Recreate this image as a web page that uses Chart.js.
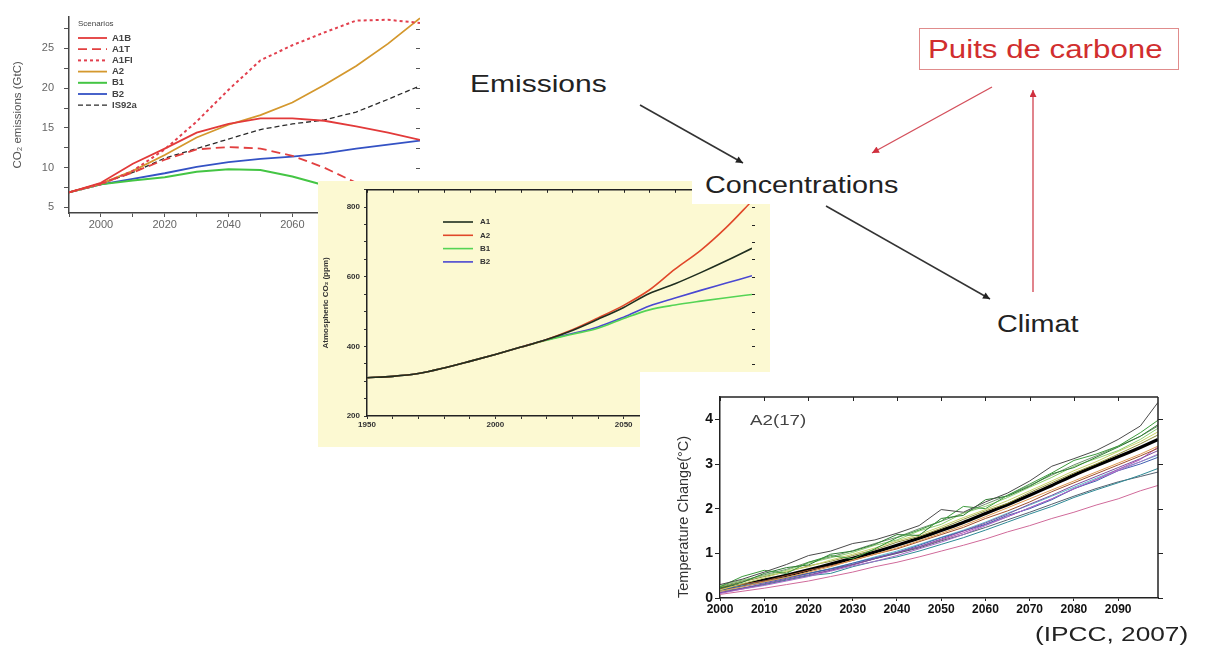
<!DOCTYPE html>
<html>
<head>
<meta charset="utf-8">
<script src="https://cdn.jsdelivr.net/npm/chart.js@4.4.1/dist/chart.umd.min.js"></script>
<style>
  html, body { margin: 0; padding: 0; background: #fff; }
  body { width: 1215px; height: 652px; position: relative; overflow: hidden;
         font-family: 'Liberation Sans', Arial, sans-serif; }
  canvas { position: absolute; }
  #cEmis { left: 0; top: 0; z-index: 1; }
  #cConc { left: 318px; top: 181px; z-index: 2; background: #fcf9d2; }
  #cTemp { left: 640px; top: 372px; z-index: 3; background: #fff; }
  .lbl { position: absolute; white-space: nowrap; line-height: 1; color: #222;
         transform: scaleX(1.25); transform-origin: 0 0; z-index: 6; }
  #concBox { position: absolute; left: 692px; top: 166px; width: 232px; height: 38px;
             background: #fff; z-index: 5; }
  #sinkBox { position: absolute; left: 919px; top: 28px; width: 258px; height: 40px;
             border: 1.5px solid #e08c8c; z-index: 5; }
  #arrows { position: absolute; left: 0; top: 0; z-index: 7; }
</style>
</head>
<body>
<canvas id="cEmis" width="440" height="232"></canvas>
<canvas id="cConc" width="452" height="266"></canvas>
<canvas id="cTemp" width="575" height="250"></canvas>

<div id="concBox"></div>
<div id="sinkBox"></div>
<div class="lbl" style="left:470px; top:71.7px; font-size:24px;">Emissions</div>
<div class="lbl" style="left:705px; top:173.5px; font-size:23px;">Concentrations</div>
<div class="lbl" style="left:997px; top:312.5px; font-size:23px;">Climat</div>
<div class="lbl" style="left:928px; top:36.8px; font-size:25px; color:#d12e2e;">Puits de carbone</div>
<div class="lbl" style="left:1035px; top:623px; font-size:21px;">(IPCC, 2007)</div>
<div class="lbl" style="left:750px; top:411.5px; font-size:15px; color:#444;">A2(17)</div>

<svg id="arrows" width="1215" height="652">
  <defs>
    <marker id="headK" viewBox="0 0 10 10" refX="10" refY="5" markerUnits="userSpaceOnUse"
            markerWidth="9" markerHeight="7" orient="auto">
      <path d="M0,0 L10,5 L0,10 z" fill="#222"/>
    </marker>
    <marker id="headR" viewBox="0 0 10 10" refX="10" refY="5" markerUnits="userSpaceOnUse"
            markerWidth="9" markerHeight="7" orient="auto">
      <path d="M0,0 L10,5 L0,10 z" fill="#d0303e"/>
    </marker>
  </defs>
  <line x1="640" y1="105" x2="743" y2="163" stroke="#333" stroke-width="1.6" marker-end="url(#headK)"/>
  <line x1="826" y1="206" x2="990" y2="299" stroke="#333" stroke-width="1.6" marker-end="url(#headK)"/>
  <line x1="992" y1="87" x2="872" y2="153" stroke="#d4505c" stroke-width="1.4" marker-end="url(#headR)"/>
  <line x1="1033" y1="292" x2="1033" y2="90" stroke="#d4505c" stroke-width="1.4" marker-end="url(#headR)"/>
</svg>

<script>
// ---------- CO2 emission scenarios (GtC per year) ----------
const emisYears = [1990, 2000, 2010, 2020, 2030, 2040, 2050, 2060, 2070, 2080, 2090, 2100];
const emisA1B   = [6.9, 8.1, 10.5, 12.4, 14.4, 15.5, 16.2, 16.2, 15.9, 15.2, 14.4, 13.5];
const emisA1T   = [6.9, 8.0, 9.4, 11.0, 12.3, 12.6, 12.4, 11.5, 10.0, 8.1, 6.0, 4.3];
const emisA1FI  = [6.9, 7.9, 9.6, 12.3, 15.8, 19.8, 23.5, 25.4, 27.0, 28.5, 28.6, 28.2];
const emisA2    = [6.9, 8.0, 9.6, 11.6, 13.8, 15.4, 16.6, 18.2, 20.4, 22.8, 25.6, 28.8];
const emisB1    = [6.9, 7.9, 8.4, 8.8, 9.5, 9.8, 9.7, 8.9, 7.8, 6.6, 5.4, 4.2];
const emisB2    = [6.9, 7.9, 8.6, 9.3, 10.1, 10.7, 11.1, 11.4, 11.8, 12.4, 12.9, 13.4];
const emisIS92a = [6.9, 8.0, 9.4, 11.2, 12.4, 13.6, 14.8, 15.5, 16.0, 17.0, 18.6, 20.3];
const emisXTicks = [1990, 2000, 2010, 2020, 2030, 2040, 2050, 2060, 2070, 2080, 2090, 2100];
const emisYTicks = [5, 7.5, 10, 12.5, 15, 17.5, 20, 22.5, 25, 27.5];

// ---------- Atmospheric CO2 concentration (ppm) ----------
const concYears = [1950, 1960, 1970, 1980, 1990, 2000, 2010, 2020, 2030, 2040, 2050, 2060, 2070, 2080, 2090, 2100];
const concA1 = [310, 314, 322, 338, 357, 377, 398, 420, 446, 478, 512, 552, 580, 612, 646, 682];
const concA2 = [310, 314, 322, 338, 357, 377, 398, 420, 448, 482, 518, 562, 622, 676, 742, 818];
const concB1 = [310, 314, 322, 338, 357, 377, 398, 418, 435, 452, 480, 505, 519, 530, 540, 549];
const concB2 = [310, 314, 322, 338, 357, 377, 398, 419, 437, 456, 484, 516, 539, 561, 582, 603];
const concXTicks = [1950, 1960, 1970, 1980, 1990, 2000, 2010, 2020, 2030, 2040, 2050, 2060, 2070, 2080, 2090, 2100];
const concYTicks = [200, 250, 300, 350, 400, 450, 500, 550, 600, 650, 700, 750, 800, 850];

// ---------- Temperature change, A2 scenario, 17 models (°C) ----------
const tempYears = [2000, 2005, 2010, 2015, 2020, 2025, 2030, 2035, 2040, 2045, 2050, 2055, 2060, 2065, 2070, 2075, 2080, 2085, 2090, 2095, 2099];
const tempMean = [0.20, 0.29, 0.40, 0.51, 0.63, 0.76, 0.89, 1.03, 1.18, 1.34, 1.51, 1.69, 1.89, 2.09, 2.30, 2.52, 2.75, 2.96, 3.16, 3.37, 3.55];
const tempM01 = [0.30, 0.42, 0.58, 0.75, 0.95, 1.05, 1.22, 1.30, 1.45, 1.62, 1.98, 1.92, 2.15, 2.35, 2.62, 2.95, 3.12, 3.30, 3.55, 3.85, 4.38];
const tempM02 = [0.25, 0.48, 0.62, 0.55, 0.80, 0.95, 0.88, 1.10, 1.35, 1.52, 1.72, 2.05, 2.00, 2.30, 2.55, 2.80, 3.08, 3.22, 3.40, 3.70, 3.98];
const tempM03 = [0.22, 0.35, 0.55, 0.68, 0.74, 0.98, 1.05, 1.20, 1.42, 1.40, 1.78, 1.85, 2.20, 2.28, 2.50, 2.78, 2.92, 3.15, 3.38, 3.62, 3.88];
const tempM04 = [0.28, 0.40, 0.50, 0.62, 0.78, 0.90, 1.02, 1.18, 1.30, 1.50, 1.65, 1.90, 2.05, 2.25, 2.48, 2.70, 2.95, 3.12, 3.30, 3.55, 3.80];
const tempM05 = [0.18, 0.32, 0.45, 0.60, 0.70, 0.85, 0.98, 1.12, 1.28, 1.42, 1.60, 1.80, 1.98, 2.18, 2.40, 2.62, 2.85, 3.05, 3.28, 3.50, 3.72];
const tempM06 = [0.24, 0.36, 0.48, 0.58, 0.72, 0.82, 0.95, 1.08, 1.25, 1.38, 1.56, 1.76, 1.95, 2.12, 2.36, 2.58, 2.80, 3.00, 3.22, 3.45, 3.65];
const tempM07 = [0.15, 0.25, 0.36, 0.46, 0.58, 0.70, 0.85, 0.98, 1.12, 1.28, 1.45, 1.62, 1.82, 2.02, 2.22, 2.42, 2.62, 2.82, 3.02, 3.22, 3.40];
const tempM08 = [0.20, 0.30, 0.38, 0.50, 0.62, 0.72, 0.84, 0.98, 1.10, 1.26, 1.42, 1.58, 1.78, 1.95, 2.15, 2.38, 2.58, 2.78, 2.98, 3.18, 3.35];
const tempM09 = [0.12, 0.22, 0.32, 0.42, 0.52, 0.62, 0.75, 0.88, 1.02, 1.15, 1.32, 1.50, 1.68, 1.88, 2.10, 2.30, 2.52, 2.72, 2.92, 3.12, 3.30];
const tempM10 = [0.10, 0.20, 0.28, 0.38, 0.48, 0.60, 0.72, 0.82, 0.95, 1.10, 1.25, 1.42, 1.62, 1.82, 2.02, 2.22, 2.45, 2.65, 2.85, 3.05, 3.22];
const tempM11 = [0.18, 0.26, 0.34, 0.44, 0.55, 0.65, 0.78, 0.90, 1.02, 1.18, 1.35, 1.50, 1.65, 1.85, 2.00, 2.20, 2.45, 2.62, 2.85, 3.00, 3.15];
const tempM12 = [0.15, 0.22, 0.30, 0.40, 0.50, 0.55, 0.70, 0.82, 0.92, 1.05, 1.20, 1.35, 1.52, 1.70, 1.88, 2.05, 2.25, 2.42, 2.58, 2.75, 2.90];
const tempM13 = [0.22, 0.30, 0.38, 0.46, 0.55, 0.65, 0.75, 0.88, 1.00, 1.12, 1.28, 1.42, 1.58, 1.75, 1.92, 2.10, 2.28, 2.45, 2.60, 2.72, 2.82];
const tempM14 = [0.08, 0.15, 0.22, 0.30, 0.38, 0.48, 0.58, 0.70, 0.80, 0.92, 1.05, 1.18, 1.32, 1.48, 1.62, 1.78, 1.92, 2.08, 2.22, 2.40, 2.52];
const tempM15 = [0.12, 0.20, 0.30, 0.40, 0.50, 0.62, 0.74, 0.88, 1.00, 1.14, 1.30, 1.46, 1.64, 1.82, 2.02, 2.22, 2.44, 2.65, 2.88, 3.10, 3.38];
const tempM16 = [0.20, 0.28, 0.36, 0.45, 0.55, 0.66, 0.78, 0.92, 1.05, 1.20, 1.36, 1.52, 1.70, 1.90, 2.08, 2.28, 2.48, 2.68, 2.88, 3.05, 3.20];
const tempM17 = [0.26, 0.38, 0.52, 0.64, 0.80, 0.92, 1.06, 1.22, 1.36, 1.55, 1.72, 1.90, 2.10, 2.30, 2.52, 2.75, 2.98, 3.18, 3.40, 3.62, 3.85];
const tempXTicks = [2000, 2010, 2020, 2030, 2040, 2050, 2060, 2070, 2080, 2090];
const tempYTicks = [0, 1, 2, 3, 4];

// ---------- helpers ----------
const FONT = "'Liberation Sans', Arial, sans-serif";
Chart.defaults.font.family = FONT;
Chart.defaults.animation = false;
Chart.defaults.plugins.legend.display = false;
Chart.defaults.plugins.tooltip.enabled = false;
Chart.defaults.elements.point.radius = 0;

const pts = (xs, ys) => xs.map((x, i) => ({ x: x, y: ys[i] }));
const fixTicks = vals => axis => { axis.ticks = vals.map(v => ({ value: v })); };

// Plot-frame edges and tick marks on the top/right sides
const framePlugin = {
  id: 'frame',
  afterDatasetsDraw(chart, args, o) {
    if (!o || (!o.top && !o.right)) return;
    const ctx = chart.ctx, a = chart.chartArea;
    ctx.save();
    ctx.strokeStyle = o.color || '#222';
    ['top', 'right'].forEach(side => {
      const s = o[side];
      if (!s) return;
      if (s.line) {
        ctx.lineWidth = o.width || 1.5;
        ctx.beginPath();
        if (side === 'top') { ctx.moveTo(a.left, a.top); ctx.lineTo(a.right, a.top); }
        else { ctx.moveTo(a.right, a.top); ctx.lineTo(a.right, a.bottom); }
        ctx.stroke();
      }
      const sc = chart.scales[s.scale];
      ctx.lineWidth = s.tickWidth || 1;
      sc.ticks.forEach(t => {
        const p = Math.round(sc.getPixelForValue(t.value)) + 0.5;
        ctx.beginPath();
        if (side === 'top') { ctx.moveTo(p, a.top); ctx.lineTo(p, a.top + s.len); }
        else if (s.inward) { ctx.moveTo(a.right - s.len, p); ctx.lineTo(a.right, p); }
        else { ctx.moveTo(a.right, p); ctx.lineTo(a.right + s.len, p); }
        ctx.stroke();
      });
    });
    ctx.restore();
  }
};

// Legend drawn inside the plot area from the datasets' own styles
const insetLegend = {
  id: 'insetLegend',
  afterDatasetsDraw(chart, args, o) {
    if (!o || o.x === undefined) return;
    const ctx = chart.ctx;
    ctx.save();
    ctx.textBaseline = 'middle';
    ctx.fillStyle = o.color;
    if (o.title) { ctx.font = o.titleFont; ctx.fillText(o.title, o.x, o.titleY); }
    chart.data.datasets.forEach((ds, i) => {
      const y = o.y0 + i * o.dy;
      ctx.strokeStyle = ds.borderColor;
      ctx.lineWidth = ds.borderWidth;
      ctx.setLineDash(ds.borderDash || []);
      ctx.beginPath(); ctx.moveTo(o.x, y); ctx.lineTo(o.x + o.len, y); ctx.stroke();
      ctx.setLineDash([]);
      ctx.font = o.font;
      ctx.fillText(ds.label, o.x + o.len + o.gap, y);
    });
    ctx.restore();
  }
};

// ---------- Chart 1: emissions ----------
const emisLine = (label, data, color, dash, width) => ({
  label, data: pts(emisYears, data), borderColor: color, borderWidth: width || 1.8,
  borderDash: dash || [], tension: 0, fill: false
});

new Chart(document.getElementById('cEmis'), {
  type: 'line',
  data: {
    datasets: [
      emisLine('A1B', emisA1B, '#e23a3a'),
      emisLine('A1T', emisA1T, '#e24040', [9, 5]),
      emisLine('A1FI', emisA1FI, '#e2404e', [3, 3], 2),
      emisLine('A2', emisA2, '#d4982e'),
      emisLine('B1', emisB1, '#44c544', null, 2),
      emisLine('B2', emisB2, '#3452c4'),
      emisLine('IS92a', emisIS92a, '#2a2a2a', [5, 3], 1.3)
    ]
  },
  options: {
    responsive: false, devicePixelRatio: 1,
    layout: { padding: { left: 0, top: 12, right: 20, bottom: 0 } },
    scales: {
      x: {
        type: 'linear', min: 1990, max: 2100,
        afterBuildTicks: fixTicks(emisXTicks),
        afterFit: s => { s.height = 19; },
        ticks: { callback: v => (v % 20 === 0 ? String(v) : ''), autoSkip: false, maxRotation: 0,
                 color: '#666', font: { size: 11 }, padding: 1 },
        grid: { drawOnChartArea: false, tickLength: 4, color: '#555' },
        border: { color: '#444', width: 1.5 }
      },
      y: {
        type: 'linear', min: 4.3, max: 29,
        afterBuildTicks: fixTicks(emisYTicks),
        afterFit: s => { s.width = 69; },
        ticks: { callback: v => (v % 5 === 0 ? String(v) : ''), autoSkip: false,
                 color: '#666', font: { size: 11 }, padding: 10 },
        grid: { drawOnChartArea: false, tickLength: 5, color: '#555' },
        border: { color: '#444', width: 1.5 },
        title: { display: true, text: 'CO₂ emissions (GtC)', color: '#555',
                 font: { size: 11.5 }, padding: { top: 11, bottom: 0 } }
      }
    },
    plugins: {
      frame: { color: '#555', right: { scale: 'y', len: 4, inward: true, line: false } },
      insetLegend: { x: 78, y0: 38, dy: 11.2, len: 29, gap: 5, color: '#444',
                     font: 'bold 9.5px ' + FONT, title: 'Scenarios', titleY: 24,
                     titleFont: '8px ' + FONT }
    }
  },
  plugins: [framePlugin, insetLegend]
});

// ---------- Chart 2: concentrations ----------
const concLine = (label, data, color) => ({
  label, data: pts(concYears, data), borderColor: color, borderWidth: 1.6,
  cubicInterpolationMode: 'monotone', fill: false
});

new Chart(document.getElementById('cConc'), {
  type: 'line',
  data: {
    datasets: [
      concLine('A1', concA1, '#1f2e1f'),
      concLine('A2', concA2, '#e0482a'),
      concLine('B1', concB1, '#55d455'),
      concLine('B2', concB2, '#4a48d2')
    ]
  },
  options: {
    responsive: false, devicePixelRatio: 1,
    layout: { padding: { left: 0, top: 3, right: 18, bottom: 0 } },
    scales: {
      x: {
        type: 'linear', min: 1950, max: 2100,
        afterBuildTicks: fixTicks(concXTicks),
        afterFit: s => { s.height = 31; },
        ticks: { callback: v => (v % 50 === 0 ? String(v) : ''), autoSkip: false, maxRotation: 0,
                 color: '#333', font: { size: 8, weight: 'bold' }, padding: 1 },
        grid: { drawOnChartArea: false, tickLength: 3, color: '#333' },
        border: { color: '#222', width: 1.5 }
      },
      y: {
        type: 'linear', min: 200, max: 850,
        afterBuildTicks: fixTicks(concYTicks),
        afterFit: s => { s.width = 49; },
        ticks: { callback: v => (v % 200 === 0 ? String(v) : ''), autoSkip: false,
                 color: '#333', font: { size: 8, weight: 'bold' }, padding: 4 },
        grid: { drawOnChartArea: false, tickLength: 3, color: '#333' },
        border: { color: '#222', width: 1.5 },
        title: { display: true, text: 'Atmospheric CO₂ (ppm)', color: '#333',
                 font: { size: 8, weight: 'bold' }, padding: { top: 3, bottom: 0 } }
      }
    },
    plugins: {
      frame: { color: '#222', width: 1.5,
               top: { scale: 'x', len: 3, line: true },
               right: { scale: 'y', len: 3, line: false } },
      insetLegend: { x: 125, y0: 41, dy: 13.3, len: 30, gap: 7, color: '#333',
                     font: 'bold 8px ' + FONT }
    }
  },
  plugins: [framePlugin, insetLegend]
});

// ---------- Chart 3: temperature change ----------
const tempModels = [
  [tempM01, '#4a4a4a'], [tempM02, '#3d9a3d'], [tempM03, '#2e7d32'], [tempM04, '#8ccc70'],
  [tempM05, '#c9d26a'], [tempM06, '#8f8f3a'], [tempM07, '#e09a50'], [tempM08, '#a0522d'],
  [tempM09, '#7b4fa0'], [tempM10, '#a66cc8'], [tempM11, '#3f5fb0'], [tempM12, '#2f8a96'],
  [tempM13, '#55606e'], [tempM14, '#d06a9a'], [tempM15, '#b84fb8'], [tempM16, '#5cbccc'],
  [tempM17, '#6f8f6f']
];
const tempSets = tempModels.map(([vals, col], i) => ({
  label: 'model ' + (i + 1), data: pts(tempYears, vals), borderColor: col,
  borderWidth: 1, tension: 0, fill: false
}));
tempSets.push({ label: 'mean', data: pts(tempYears, tempMean), borderColor: '#000',
                borderWidth: 3.2, tension: 0.2, fill: false });

new Chart(document.getElementById('cTemp'), {
  type: 'line',
  data: { datasets: tempSets },
  options: {
    responsive: false, devicePixelRatio: 1,
    layout: { padding: { left: 35, top: 25, right: 57, bottom: 0 } },
    scales: {
      x: {
        type: 'linear', min: 2000, max: 2099,
        afterBuildTicks: fixTicks(tempXTicks),
        afterFit: s => { s.height = 24; },
        ticks: { callback: v => String(v), autoSkip: false, maxRotation: 0, color: '#111',
                 font: { size: 12, weight: 'bold' }, padding: 1 },
        grid: { drawOnChartArea: false, tickLength: 3, color: '#222' },
        border: { color: '#222', width: 1.5 }
      },
      y: {
        type: 'linear', min: 0, max: 4.5,
        afterBuildTicks: fixTicks(tempYTicks),
        afterFit: s => { s.width = 45; },
        ticks: { callback: v => String(v), autoSkip: false, color: '#111',
                 font: { size: 14, weight: 'bold' }, padding: 2 },
        grid: { drawOnChartArea: false, tickLength: 5, color: '#222' },
        border: { color: '#222', width: 1.5 },
        title: { display: true, text: 'Temperature Change(°C)', color: '#333', align: 'start',
                 font: { size: 14.5 }, padding: { top: 0, bottom: 0 } }
      }
    },
    plugins: {
      frame: { color: '#222', width: 1.5,
               top: { scale: 'x', len: 4, line: true },
               right: { scale: 'y', len: 5, line: true } }
    }
  },
  plugins: [framePlugin]
});
</script>
</body>
</html>
